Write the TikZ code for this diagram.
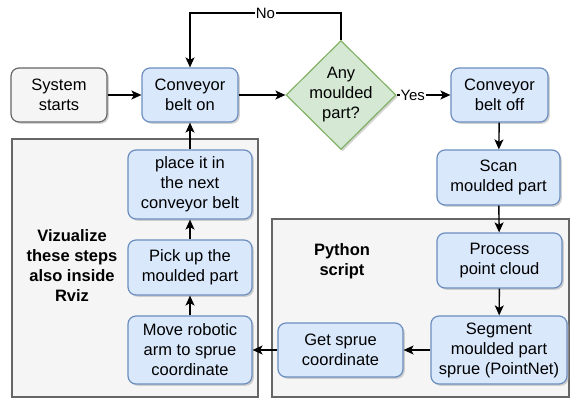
\documentclass[tikz,border=0pt]{standalone}
\usepackage{fontspec}
\setmainfont{Liberation Sans}
\usetikzlibrary{arrows.meta,shapes.geometric,shadows}
\definecolor{bfill}{HTML}{DAE8FC}
\definecolor{bdraw}{HTML}{6C8EBF}
\definecolor{gfill}{HTML}{F5F5F5}
\definecolor{gdraw}{HTML}{666666}
\definecolor{dfill}{HTML}{D5E8D4}
\definecolor{ddraw}{HTML}{82B366}
\tikzset{
  boxbase/.style={rectangle, rounded corners=8pt, line width=1.2pt, align=center, inner sep=0pt,
    font=\fontsize{16.5}{20}\selectfont,
    drop shadow={shadow xshift=1.8pt, shadow yshift=-1.8pt, fill=black!35, opacity=0.5}},
  bluebox/.style={boxbase, fill=bfill, draw=bdraw},
  graybox/.style={boxbase, fill=gfill, draw=gdraw},
  container/.style={rectangle, fill=gfill, draw=gdraw, line width=1.2pt},
  conn/.style={line width=1.4pt, -{Stealth[length=10pt,width=9pt,inset=2.5pt]}},
  elabel/.style={fill=white, inner sep=1pt, font=\fontsize{15}{18}\selectfont},
  boldlabel/.style={align=center, font=\bfseries\fontsize{16.5}{20}\selectfont},
  plainlabel/.style={align=center, font=\fontsize{16.5}{20}\selectfont}
}
\begin{document}
\begin{tikzpicture}[x=1pt,y=-1pt]
\useasboundingbox (0,0) rectangle (571,399);
% containers
\node[container, minimum width=246pt, minimum height=258pt] (leftc) at (135,268) {};
\node[container, minimum width=297pt, minimum height=178pt] (rightc) at (420.5,308) {};
\node[boldlabel] (viz) at (72,266) {Vizualize\\these steps\\also inside\\Rviz};
\node[boldlabel] (py) at (342,261) {Python\\script};
% nodes
\node[graybox, minimum width=96pt, minimum height=54pt] (start) at (59,95) {System\\starts};
\node[bluebox, minimum width=96pt, minimum height=54pt] (on) at (190,95) {Conveyor\\belt on};
\node[diamond, fill=dfill, draw=ddraw, line width=1.2pt, minimum width=110pt, minimum height=109pt, inner sep=0pt,
  drop shadow={shadow xshift=1.8pt, shadow yshift=-1.8pt, fill=black!35, opacity=0.5}] (dec) at (341,95) {};
\node[plainlabel] (dect) at (341,95) {Any\\moulded\\part?};
\node[bluebox, minimum width=97pt, minimum height=54pt] (off) at (499.5,95) {Conveyor\\belt off};
\node[bluebox, minimum width=123pt, minimum height=55pt] (scan) at (498.5,177.5) {Scan\\moulded part};
\node[bluebox, minimum width=125pt, minimum height=55pt] (proc) at (499.5,260.5) {Process\\point cloud};
\node[bluebox, minimum width=136pt, minimum height=68pt] (seg) at (499,350) {Segment\\moulded part\\sprue (PointNet)};
\node[bluebox, minimum width=125pt, minimum height=54pt] (get) at (340.5,350) {Get sprue\\coordinate};
\node[bluebox, minimum width=124pt, minimum height=68pt] (move) at (190,350) {Move robotic\\arm to sprue\\coordinate};
\node[bluebox, minimum width=124pt, minimum height=55pt] (pick) at (190,267.5) {Pick up the\\moulded part};
\node[bluebox, minimum width=124pt, minimum height=69pt] (place) at (190,184.5) {place it in\\the next\\conveyor belt};
% connectors
\coordinate (nr) at (341,13);
\coordinate (nl) at (190,13);
\draw[conn] (start) -- (on);
\draw[conn] (on) -- (dec);
\draw[conn] (dec.north) -- (nr) -- node[elabel, pos=0.5] {No} (nl) -- (on.north);
\draw[conn] (dec.east) -- node[elabel, pos=0.3] {Yes} (off.west);
\draw[conn] (off) -- (scan);
\draw[conn] (scan) -- (proc);
\draw[conn] (proc) -- (seg);
\draw[conn] (seg) -- (get);
\draw[conn] (get) -- (move);
\draw[conn] (move) -- (pick);
\draw[conn] (pick) -- (place);
\draw[conn] (place) -- (on);
\end{tikzpicture}
\end{document}
